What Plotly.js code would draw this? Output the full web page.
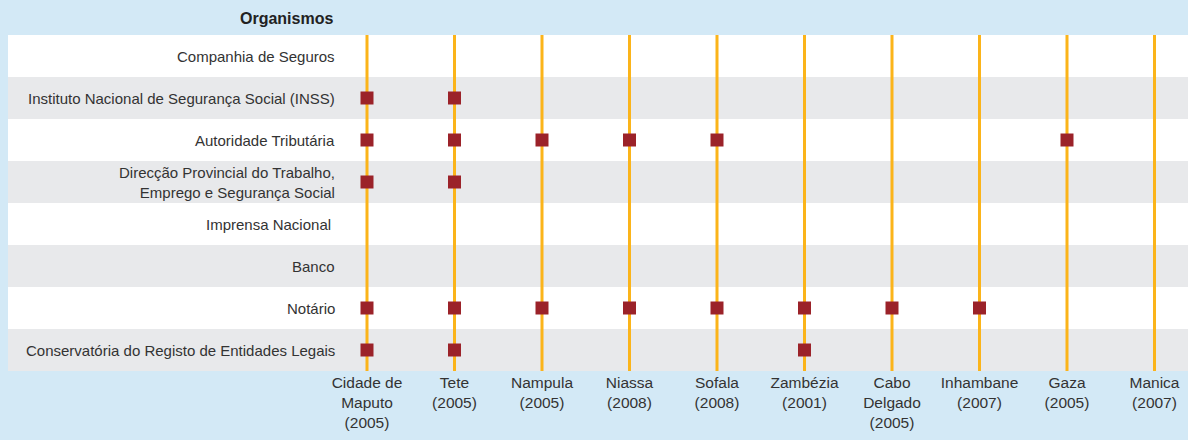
<!DOCTYPE html>
<html>
<head>
<meta charset="utf-8">
<script src="https://cdn.plot.ly/plotly-3.0.1.min.js"></script>
<style>
html,body{margin:0;padding:0;background:#d3e9f6;}
#chart{width:1188px;height:440px;}
</style>
</head>
<body>
<div id="chart"></div>
<script>
// ---- data ----
const provinceLabels = [
  "Cidade de<br>Maputo<br>(2005)",
  "Tete<br>(2005)",
  "Nampula<br>(2005)",
  "Niassa<br>(2008)",
  "Sofala<br>(2008)",
  "Zambézia<br>(2001)",
  "Cabo<br>Delgado<br>(2005)",
  "Inhambane<br>(2007)",
  "Gaza<br>(2005)",
  "Manica<br>(2007)"
];
const organisms = [
  "Companhia de Seguros",
  "Instituto Nacional de Segurança Social (INSS)",
  "Autoridade Tributária",
  "Direcção Provincial do Trabalho,<br>Emprego e Segurança Social",
  "Imprensa Nacional ",
  "Banco",
  "Notário",
  "Conservatória do Registo de Entidades Legais"
];
const headerText = "Organismos";
// presence[organism][province] : 1 = present
const presence = [
  [0,0,0,0,0,0,0,0,0,0],
  [1,1,0,0,0,0,0,0,0,0],
  [1,1,1,1,1,0,0,0,1,0],
  [1,1,0,0,0,0,0,0,0,0],
  [0,0,0,0,0,0,0,0,0,0],
  [0,0,0,0,0,0,0,0,0,0],
  [1,1,1,1,1,1,1,1,0,0],
  [1,1,0,0,0,1,0,0,0,0]
];

// ---- styles ----
const FONT = '"Liberation Sans", Arial, sans-serif';
const TXT = '#333333';
const BG = '#d3e9f6';
const BAND_A = '#ffffff';
const BAND_B = '#e8e9eb';
const LINE_C = '#fbb41a';
const MARK_C = '#9b2229';

const nProv = provinceLabels.length;
const nOrg = organisms.length;
const provIdx = provinceLabels.map((_, i) => i);

// vertical lines
const lx = [], ly = [];
provIdx.forEach(i => { lx.push(i, i, null); ly.push(-0.5, nOrg - 0.5, null); });

// markers
const mx = [], my = [];
presence.forEach((row, r) => row.forEach((v, c) => { if (v) { mx.push(c); my.push(r); } }));

const shapes = organisms.map((_, r) => ({
  type: 'rect', xref: 'paper', yref: 'y', x0: 0, x1: 1,
  y0: r - 0.5, y1: r + 0.5, fillcolor: r % 2 ? BAND_B : BAND_A,
  line: {width: 0}, layer: 'below'
}));

const plotW = 1180;
const labelRight = (337 - 8) / plotW;
const annotations = organisms.map((t, r) => ({
  text: t, xref: 'paper', yref: 'y', x: labelRight, y: r,
  xanchor: 'right', yanchor: 'middle', align: 'right', showarrow: false,
  font: {family: FONT, size: 15, color: TXT}
}));
annotations.push({
  text: '<b>' + headerText + '</b>', xref: 'paper', yref: 'paper',
  x: (335 - 8) / plotW, y: 1 + (35 - 19) / 336, xanchor: 'right', yanchor: 'middle',
  showarrow: false, font: {family: FONT, size: 16, color: '#222222'}
});

const traces = [
  {x: lx, y: ly, mode: 'lines', type: 'scatter', hoverinfo: 'skip',
   line: {color: LINE_C, width: 3}, showlegend: false},
  {x: mx, y: my, mode: 'markers', type: 'scatter',
   marker: {symbol: 'square', size: 13, color: MARK_C, line: {width: 0}}, showlegend: false}
];

const spacing = 87.5;
const xmin = -(367 - 8) / spacing;
const xmax = xmin + plotW / spacing;

const layout = {
  width: 1188, height: 440,
  margin: {l: 8, r: 0, t: 35, b: 69},
  paper_bgcolor: BG, plot_bgcolor: BG,
  showlegend: false,
  xaxis: {range: [xmin, xmax], tickvals: provIdx, ticktext: provinceLabels,
          showgrid: false, zeroline: false, showline: false, ticks: '',
          tickfont: {family: FONT, size: 15.5, color: TXT}, fixedrange: true},
  yaxis: {range: [nOrg - 0.5, -0.5], showgrid: false, zeroline: false,
          showticklabels: false, showline: false, ticks: '', fixedrange: true},
  shapes: shapes,
  annotations: annotations
};

Plotly.newPlot('chart', traces, layout, {displayModeBar: false, staticPlot: true});
</script>
</body>
</html>
